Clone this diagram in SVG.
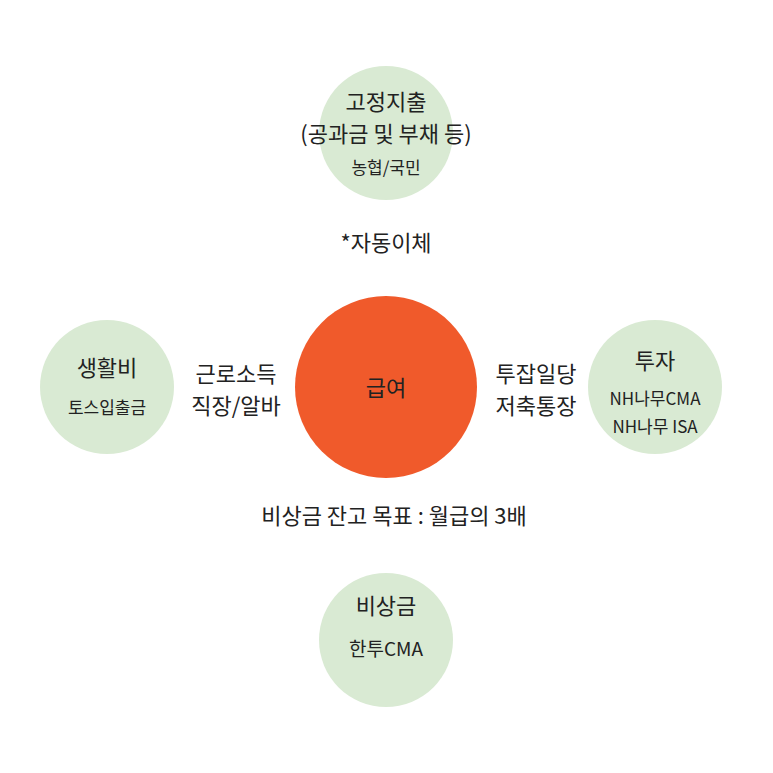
<svg xmlns="http://www.w3.org/2000/svg" width="773" height="773" viewBox="0 0 773 773">
<style>
text{font-family:"Noto Sans CJK KR","Noto Sans",sans-serif;fill:#222;text-anchor:middle}
.g{fill:#D9EAD3}
.l{font-size:22px}.m{font-size:19px}.s{font-size:17px}
</style>
<rect width="773" height="773" fill="#fff"/>
<g id="center"><circle cx="386" cy="387" r="91" fill="#F05A2B"/><text class="l" x="386" y="396">급여</text></g>
<g id="top"><circle class="g" cx="386" cy="133" r="67"/>
<text class="l" x="386" y="110">고정지출</text><text class="l" x="386" y="142">(공과금 및 부채 등)</text><text class="s" x="386" y="174">농협/국민</text></g>
<g id="left"><circle class="g" cx="107" cy="387" r="67"/>
<text class="l" x="107" y="376">생활비</text><text class="s" x="107" y="414">토스입출금</text></g>
<g id="right"><circle class="g" cx="655" cy="387" r="67"/>
<text class="l" x="655" y="369">투자</text><text class="s" x="655" y="405">NH나무CMA</text><text class="s" x="655" y="433">NH나무 ISA</text></g>
<g id="bottom"><circle class="g" cx="386" cy="640" r="67"/>
<text class="l" x="386" y="614">비상금</text><text class="m" x="386" y="656">한투CMA</text></g>
<g id="labels">
<text class="l" x="386" y="251">*자동이체</text>
<text class="l" x="236" y="382">근로소득</text><text class="l" x="236" y="414">직장/알바</text>
<text class="l" x="536" y="382">투잡일당</text><text class="l" x="536" y="414">저축통장</text>
<text class="l" x="394" y="524">비상금 잔고 목표 : 월급의 3배</text>
</g>
</svg>
